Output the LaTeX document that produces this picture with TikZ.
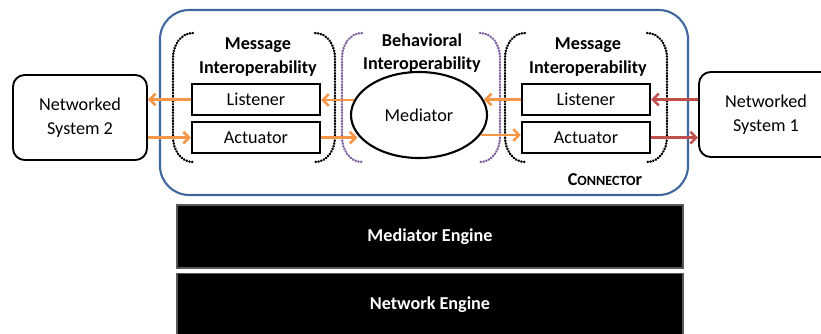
\documentclass[tikz,border=0pt]{standalone}
\usepackage{fontspec}
\setmainfont{Carlito}
\usetikzlibrary{shapes.geometric, positioning, arrows.meta}
\definecolor{connblue}{HTML}{41689E}
\definecolor{floworange}{HTML}{F79646}
\definecolor{flowred}{HTML}{C0504D}
\definecolor{behpurple}{HTML}{8064A2}
\tikzset{
        x=0.03cm, y=-0.03cm, % one unit is one pixel of the reference
        node distance=0.15cm, % gap between stacked boxes
        every node/.style={font=\fontsize{15.5}{20}\selectfont, align=center, inner sep=0pt},
        system/.style={draw, line width=1.6pt, rounded corners=10pt, minimum width=4.02cm, minimum height=2.55cm}, % networked systems
        port/.style={draw, line width=1.8pt, minimum width=3.84cm, minimum height=0.93cm}, % listener and actuator boxes
        title/.style={font=\fontsize{15.5}{20}\selectfont\bfseries}, % layer titles
        engine/.style={draw=black!65, fill=black, line width=1pt, text=white, font=\fontsize{15.5}{20}\selectfont\bfseries, minimum width=15.18cm, minimum height=1.89cm},
        bracket/.style={line width=2.1pt, dash pattern=on 0.4pt off 2pt, line cap=round}, % dotted parentheses
        flow/.style={-{Straight Barb[length=5pt, width=10pt]}, line width=2.2pt, floworange}, % message flow
        }
\begin{document}
\begin{tikzpicture}
        \useasboundingbox (0,0) rectangle (821,333);
        % the connector
        \node[draw=connblue, line width=1.8pt, rounded corners=25pt, minimum width=15.84cm, minimum height=5.55cm] (Connector) at (424,102.5) {};
        \node[title] (ConnLabel) at (605,180) {C{\fontsize{12}{14}\selectfont ONNECTO}r};

        % dotted parentheses round each layer
        \foreach \l/\r/\c in {173/335/black, 342/500/behpurple, 505/667/black} {
            \draw[bracket, \c] (\l+20,33) to[out=180, in=90] (\l,58) -- (\l,137) to[out=-90, in=180] (\l+20,162);
            \draw[bracket, \c] (\r-20,33) to[out=0, in=90] (\r,58) -- (\r,137) to[out=-90, in=0] (\r-20,162);
        }

        \node[title] (MsgTitleL) at (258,57) {Message\\Interoperability};
        \node[title] (BehTitle) at (422,53) {Behavioral\\Interoperability};
        \node[title] (MsgTitleR) at (588,57) {Message\\Interoperability};

        \node[system] (NetSysTwo) at (80,117.5) {Networked\\System 2};
        \node[system] (NetSysOne) at (766,114.5) {Networked\\System 1};

        \node[port] (ListenerL) at (256,99.5) {Listener};
        \node[port, below=of ListenerL] (ActuatorL) {Actuator};
        \node[port] (ListenerR) at (586,99.5) {Listener};
        \node[port, below=of ListenerR] (ActuatorR) {Actuator};
        \node[draw, ellipse, line width=1.8pt, minimum width=4.08cm, minimum height=2.58cm] (Mediator) at (419,115) {Mediator};

        % engines
        \node[engine] (MediatorEngine) at (430,236.5) {Mediator Engine};
        \node[engine, below=0.12cm of MediatorEngine] (NetworkEngine) {Network Engine};

        % flows
        \draw[flow] (ListenerL.west) -- (ListenerL.west -| NetSysTwo.east);
        \draw[flow] (NetSysTwo.east |- ActuatorL.west) -- (ActuatorL.west);
        \draw[flow] (Mediator.167) -- (Mediator.167 -| ListenerL.east);
        \draw[flow] (ActuatorL.east) -- (ActuatorL.east -| Mediator.198);
        \draw[flow] (ListenerR.west) -- (ListenerR.west -| Mediator.13);
        \draw[flow] (Mediator.-18) -- (Mediator.-18 -| ActuatorR.west);
        \draw[flow, flowred] (NetSysOne.west |- ListenerR.east) -- (ListenerR.east);
        \draw[flow, flowred] (ActuatorR.east) -- (ActuatorR.east -| NetSysOne.west);
\end{tikzpicture}
\end{document}
